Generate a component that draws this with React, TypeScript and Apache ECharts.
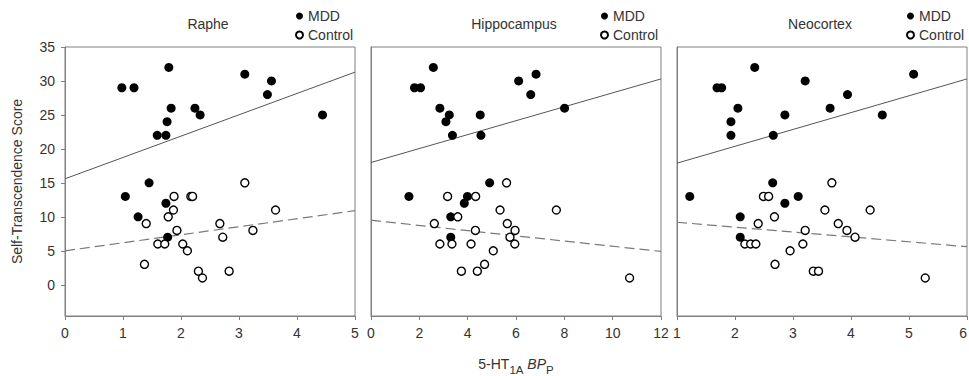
import React, { useEffect, useRef } from "react";
import * as echarts from "echarts";

// ---- data ----
const panelTitles = ["Raphe", "Hippocampus", "Neocortex"];
const xRanges = [
  [0, 5, 1],
  [0, 12, 2],
  [1, 6, 1],
];
const yTickValues = [0, 5, 10, 15, 20, 25, 30, 35];

const rapheMDD = [
  [0.98, 29], [1.19, 29], [1.79, 32], [3.1, 31], [3.56, 30], [3.49, 28], [4.44, 25],
  [1.83, 26], [2.24, 26], [2.33, 25], [1.76, 24], [1.59, 22], [1.74, 22], [1.45, 15],
  [1.04, 13], [1.26, 10], [1.74, 12], [1.77, 7],
];
const rapheControl = [
  [3.1, 15], [1.88, 13], [2.17, 13], [2.2, 13], [1.87, 11], [3.63, 11], [1.78, 10],
  [1.4, 9], [2.67, 9], [1.93, 8], [3.24, 8], [2.72, 7], [1.6, 6], [1.72, 6], [2.03, 6],
  [2.11, 5], [1.37, 3], [2.3, 2], [2.83, 2], [2.37, 1],
];
const hippoMDD = [
  [2.58, 32], [1.8, 29], [2.05, 29], [6.11, 30], [6.83, 31], [6.61, 28], [8.01, 26],
  [2.85, 26], [3.24, 25], [3.1, 24], [4.52, 25], [3.37, 22], [4.55, 22], [4.91, 15],
  [1.57, 13], [3.99, 13], [3.86, 12], [3.3, 10], [3.3, 7],
];
const hippoControl = [
  [5.61, 15], [3.17, 13], [4.33, 13], [5.34, 11], [7.67, 11], [3.59, 10], [2.62, 9],
  [5.64, 9], [4.32, 8], [5.96, 8], [5.75, 7], [2.85, 6], [3.35, 6], [4.14, 6], [5.95, 6],
  [5.06, 5], [4.7, 3], [3.74, 2], [4.4, 2], [10.7, 1],
];
const neoMDD = [
  [2.34, 32], [1.69, 29], [1.77, 29], [3.21, 30], [5.08, 31], [3.94, 28], [2.05, 26],
  [3.64, 26], [2.86, 25], [4.54, 25], [1.93, 24], [1.93, 22], [2.66, 22], [2.65, 15],
  [1.22, 13], [3.09, 13], [2.86, 12], [2.09, 10], [2.09, 7],
];
const neoControl = [
  [3.67, 15], [2.49, 13], [2.58, 13], [3.55, 11], [4.33, 11], [2.68, 10], [2.4, 9],
  [3.78, 9], [3.21, 8], [3.93, 8], [4.07, 7], [2.17, 6], [2.27, 6], [2.36, 6], [3.17, 6],
  [2.95, 5], [2.69, 3], [3.35, 2], [3.44, 2], [5.28, 1],
];

// fitted regression lines (endpoints)
const rapheMDDLine = [[0, 15.6], [5, 31.3]];
const rapheControlLine = [[0, 5.0], [5, 10.9]];
const hippoMDDLine = [[0, 18.0], [12, 30.3]];
const hippoControlLine = [[0, 9.5], [12, 4.9]];
const neoMDDLine = [[1, 17.9], [6, 30.3]];
const neoControlLine = [[1, 9.2], [6, 5.6]];

const mddSets = [rapheMDD, hippoMDD, neoMDD];
const controlSets = [rapheControl, hippoControl, neoControl];
const mddLines = [rapheMDDLine, hippoMDDLine, neoMDDLine];
const controlLines = [rapheControlLine, hippoControlLine, neoControlLine];

const FONT = "'Liberation Sans', Arial, sans-serif";
const TEXT = "#333";
const AXIS = "#808080";
const gridLefts = [65, 371, 677];
const GRID_TOP = 47;
const GRID_W = 290;
const GRID_H = 269;

export default function App() {
  const ref = useRef<HTMLDivElement>(null);

  useEffect(() => {
    if (!ref.current) return;
    const chart = echarts.init(ref.current, undefined, { renderer: "svg" });

    const grids = gridLefts.map((l) => ({
      left: l,
      top: GRID_TOP,
      width: GRID_W,
      height: GRID_H,
      containLabel: false,
      outerBoundsMode: "none",
      show: true,
      borderColor: AXIS,
      borderWidth: 1,
      backgroundColor: "transparent",
    }));

    const xAxes = xRanges.map((r, i) => ({
      type: "value",
      gridIndex: i,
      min: r[0],
      max: r[1],
      interval: r[2],
      axisLine: { show: true, onZero: false, lineStyle: { color: AXIS, width: 1 } },
      axisTick: { show: true, inside: false, length: 4, lineStyle: { color: AXIS } },
      axisLabel: {
        fontSize: 14,
        color: TEXT,
        fontFamily: FONT,
        margin: 10,
        ...(i === 2 ? { alignMaxLabel: "right" } : {}),
      },
      splitLine: { show: false },
    }));

    const yAxes = [0, 1, 2].map((i) => ({
      type: "value",
      gridIndex: i,
      min: -4.6,
      max: 35,
      axisLine: { show: true, onZero: false, lineStyle: { color: AXIS, width: 1 } },
      axisTick: {
        show: i === 0,
        inside: false,
        length: 4,
        lineStyle: { color: AXIS },
        customValues: yTickValues,
      },
      axisLabel: {
        show: i === 0,
        fontSize: 14,
        color: TEXT,
        fontFamily: FONT,
        margin: 10,
        customValues: yTickValues,
      },
      splitLine: { show: false },
      ...(i === 0
        ? {
            name: "Self-Transcendence Score",
            nameLocation: "middle",
            nameGap: 41,
            nameRotate: 90,
            nameTextStyle: { fontSize: 14, color: TEXT, fontFamily: FONT },
          }
        : {}),
    }));

    const series: any[] = [];
    for (let i = 0; i < 3; i++) {
      series.push({
        type: "line",
        name: "MDD fit",
        xAxisIndex: i,
        yAxisIndex: i,
        data: mddLines[i],
        showSymbol: false,
        symbol: "none",
        lineStyle: { color: "#555", width: 1, type: "solid" },
        z: 2,
        silent: true,
      });
      series.push({
        type: "line",
        name: "Control fit",
        xAxisIndex: i,
        yAxisIndex: i,
        data: controlLines[i],
        showSymbol: false,
        symbol: "none",
        lineStyle: { color: "#7a7a7a", width: 1.2, type: [10, 5] },
        z: 2,
        silent: true,
      });
      series.push({
        type: "scatter",
        name: "MDD",
        xAxisIndex: i,
        yAxisIndex: i,
        data: mddSets[i],
        symbol: "circle",
        symbolSize: 9,
        itemStyle: { color: "#000", borderColor: "#000", borderWidth: 0, opacity: 1 },
        z: 3,
      });
      series.push({
        type: "scatter",
        name: "Control",
        xAxisIndex: i,
        yAxisIndex: i,
        data: controlSets[i],
        symbol: "circle",
        symbolSize: 8,
        itemStyle: { color: "#fff", borderColor: "#000", borderWidth: 1.4, opacity: 1 },
        z: 4,
      });
    }

    const legendLefts = [295, 600, 906];
    const legends = legendLefts.map((l) => ({
      orient: "vertical",
      left: l,
      top: 9,
      padding: 0,
      itemWidth: 7,
      itemHeight: 7,
      itemGap: 5,
      selectedMode: false,
      data: ["MDD", "Control"],
      textStyle: { fontSize: 14, color: TEXT, fontFamily: FONT },
    }));

    const titleCenters = gridLefts.map((l) => l + GRID_W / 2 - 2);
    const graphics: any[] = panelTitles.map((t, i) => ({
      type: "text",
      x: titleCenters[i],
      y: 24,
      style: {
        text: t,
        fontSize: 14,
        fontFamily: FONT,
        fill: TEXT,
        align: "center",
        verticalAlign: "middle",
      },
    }));
    // x-axis title with subscripts
    graphics.push({
      type: "text",
      x: 516,
      y: 352,
      style: {
        text: "{a|5-HT}{b|1A}{a| }{c|BP}{b|P}",
        fontFamily: FONT,
        fill: TEXT,
        align: "center",
        verticalAlign: "top",
        rich: {
          a: { fontSize: 14, fontFamily: FONT, fill: TEXT, verticalAlign: "middle", lineHeight: 24 },
          b: { fontSize: 11.5, fontFamily: FONT, fill: TEXT, verticalAlign: "bottom", lineHeight: 12 },
          c: { fontSize: 14, fontFamily: FONT, fill: TEXT, fontStyle: "italic", verticalAlign: "middle", lineHeight: 24 },
        },
      },
    });

    chart.setOption({
      animation: false,
      backgroundColor: "#fff",
      textStyle: { fontFamily: FONT },
      grid: grids,
      xAxis: xAxes,
      yAxis: yAxes,
      legend: legends,
      series,
      graphic: graphics,
    } as any);

    return () => chart.dispose();
  }, []);

  return (
    <div
      ref={ref}
      style={{ position: "fixed", left: 0, top: 0, width: 969, height: 376, background: "#fff" }}
    />
  );
}
